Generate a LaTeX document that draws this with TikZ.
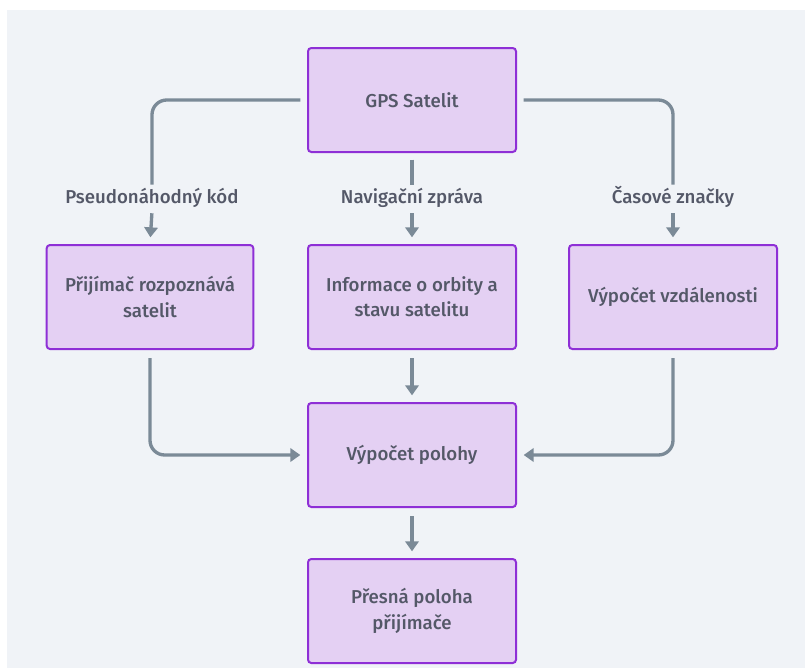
\documentclass[tikz,border=0pt]{standalone}
\usepackage{fontspec}
\setmainfont{Fira Sans}[UprightFont=* Medium]
\usetikzlibrary{arrows.meta}
\definecolor{bgc}{HTML}{F0F3F7}
\definecolor{boxfill}{HTML}{E4D0F3}
\definecolor{boxdraw}{HTML}{8E2FD6}
\definecolor{linec}{HTML}{7B8A97}
\definecolor{txtc}{HTML}{545868}
\tikzset{
  procbox/.style={draw=boxdraw, fill=boxfill, line width=1.5pt, rounded corners=2.5pt,
    minimum width=156pt, minimum height=78pt, align=center, text=txtc,
    font=\fontsize{14}{19}\selectfont, inner sep=2pt},
  edgelabel/.style={text=txtc, font=\fontsize{14}{17}\selectfont, inner xsep=2pt, inner ysep=3pt,
    text height=8pt, text depth=2.5pt},
  conn/.style={draw=linec, line width=2.5pt, rounded corners=11pt},
  arr/.style={conn, -{Triangle[width=10pt,length=7.5pt]}},
}
\begin{document}
\begin{tikzpicture}[x=0.75pt,y=-0.75pt]
\useasboundingbox (0,0) rectangle (805,668);
\fill[bgc] (7,10) rectangle (805,668);

\node[procbox] (gps) at (412,100) {GPS Satelit};
\node[procbox, minimum width=155pt] (rx) at (150,297) {Přijímač rozpoznává\\satelit};
\node[procbox] (nav) at (412,297) {Informace o orbity a\\stavu satelitu};
\node[procbox] (dist) at (673,297) {Výpočet vzdálenosti};
\node[procbox] (pos) at (412,455) {Výpočet polohy};
\node[procbox] (fin) at (412,611) {Přesná poloha\\přijímače};

\node[edgelabel] (l1) at (152,200) {Pseudonáhodný kód};
\node[edgelabel] (l2) at (412,200) {Navigační zpráva};
\node[edgelabel] (l3) at (673,200) {Časové značky};

% top connectors
\draw[conn, shorten <=5pt, shorten >=3pt] (gps.west) -| (l1.north);
\draw[arr, shorten <=1.5pt, shorten >=5pt] (l1.south) -- (rx.north);
\draw[conn, shorten <=5pt, shorten >=3pt] (gps.south) -- (l2.north);
\draw[arr, shorten <=1.5pt, shorten >=5pt] (l2.south) -- (nav.north);
\draw[conn, shorten <=5pt, shorten >=3pt] (gps.east) -| (l3.north);
\draw[arr, shorten <=1.5pt, shorten >=5pt] (l3.south) -- (dist.north);

% to position
\draw[arr, shorten <=6pt, shorten >=5pt] (rx.south) |- (pos.west);
\draw[arr, shorten <=6pt, shorten >=5pt] (nav.south) -- (pos.north);
\draw[arr, shorten <=6pt, shorten >=5pt] (dist.south) |- (pos.east);
\draw[arr, shorten <=6pt, shorten >=5pt] (pos.south) -- (fin.north);
\end{tikzpicture}
\end{document}
